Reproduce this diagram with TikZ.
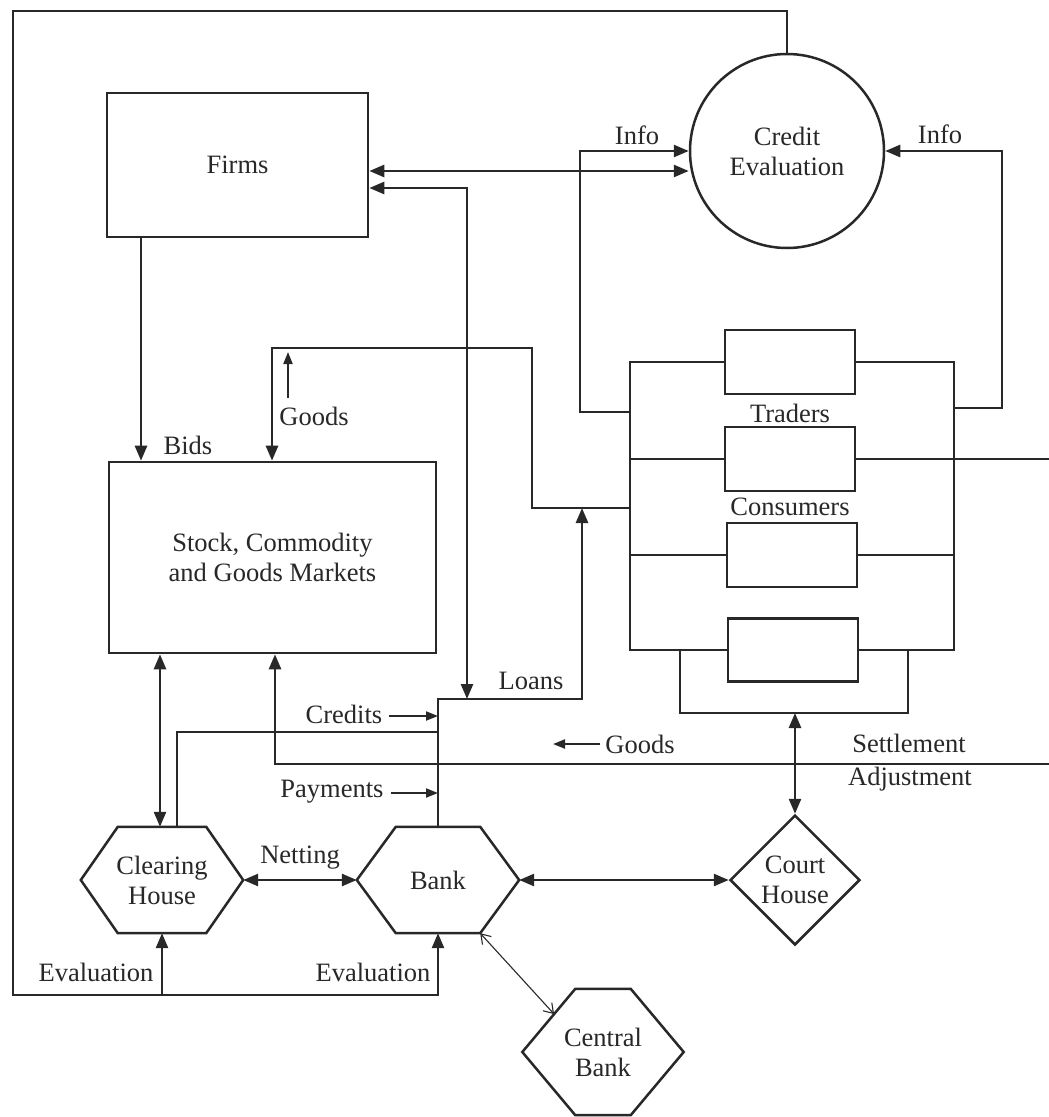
\documentclass[tikz,border=0pt]{standalone}
\usepackage{fontspec}
\setmainfont{Liberation Serif}
\usetikzlibrary{arrows.meta,shapes.geometric,calc}
\definecolor{ink}{RGB}{40,40,40}
\begin{document}
\begin{tikzpicture}[x=1pt,y=-1pt,
  every node/.style={font=\fontsize{26.5}{30}\selectfont, text=ink, align=center, inner sep=0pt},
  box/.style={draw=ink, line width=2.6pt, rectangle},
  hexn/.style={draw=none, rectangle},
  hexline/.style={draw=ink, line width=2.5pt, line join=miter},
  ln/.style={draw=ink, line width=2.6pt, >={Triangle[length=15pt,width=12pt]}},
  sln/.style={draw=ink, line width=2pt, >={Triangle[length=12pt,width=9pt]}},
  thinarr/.style={draw=ink, line width=1.1pt, {Straight Barb[length=9pt,width=12pt]}-{Straight Barb[length=9pt,width=12pt]}}
]
\useasboundingbox (0,0) rectangle (1049,1117);
\fill[white] (0,0) rectangle (1049,1117);

% main nodes
\node[box, minimum width=261pt, minimum height=144pt] (firms) at (237.5,165) {Firms};
\node[box, minimum width=327pt, minimum height=191pt] (mk) at (272.5,557.5) {Stock, Commodity\\and Goods Markets};
\node[draw=ink, line width=2.5pt, circle, minimum size=194pt] (cred) at (787,151) {Credit\\Evaluation};
\node[draw=ink, line width=2.5pt, diamond, aspect=1, minimum width=130pt, minimum height=130pt] (court) at (795,880) {Court\\House};

\node[hexn, minimum width=162pt, minimum height=106pt] (ch) at (162,880) {Clearing\\House};
\node[hexn, minimum width=162pt, minimum height=106pt] (bank) at (438,880) {Bank};
\node[hexn, minimum width=161pt, minimum height=126pt] (cb) at (603,1052) {Central\\Bank};

\newcommand{\hexdraw}[2]{%
  \draw[hexline] (#1.west) -- ([xshift=#2]#1.north west) -- ([xshift=-#2]#1.north east) -- (#1.east)
    -- ([xshift=-#2]#1.south east) -- ([xshift=#2]#1.south west) -- cycle;}
\hexdraw{ch}{37pt}
\hexdraw{bank}{39pt}
\hexdraw{cb}{53pt}

% trader / consumer boxes
\node[box, minimum width=130pt, minimum height=64pt] (t1) at (790,362) {};
\node[box, minimum width=130pt, minimum height=64pt] (t2) at (790,459) {};
\node[box, minimum width=130pt, minimum height=64pt] (t3) at (792,555) {};
\node[box, minimum width=130pt, minimum height=63pt] (t4) at (793,650) {};

% frame around traders
\draw[ln] (t1.west) -| (630,650) -- (t4.west);
\draw[ln] (t1.east) -| (954,650) -- (t4.east);
\draw[ln] (630,459) -- (t2.west);
\draw[ln] (t2.east) -- (1049,459);
\draw[ln] (630,555) -- (t3.west);
\draw[ln] (t3.east) -- (954,555);
\draw[ln] (680,650) |- (908,713) -- (908,650);

% labels
\node (ltraders) at (790,413) {Traders};
\node (lconsumers) at (790,507) {Consumers};
\node (linfo1) at (637,135) {Info};
\node (linfo2) at (940,134) {Info};
\node (lbids) at (188,445) {Bids};
\node (lgoods1) at (314,416) {Goods};
\node (lloans) at (531,681) {Loans};
\node (lcredits) at (344,714) {Credits};
\node (lpayments) at (332,792) {Payments};
\node (lgoods2) at (640,744) {Goods};
\node (lsettle) at (909,743) {Settlement};
\node (ladjust) at (910,779) {Adjustment};
\node (lnetting) at (300,858) {Netting};
\node (leval1) at (96,972) {Evaluation};
\node (leval2) at (373,972) {Evaluation};

% connectors
\draw[ln,<->] (firms.east |- 0,171) -- (cred.west |- 0,171);
\draw[ln,<->] (firms.east |- 0,188) -- (467,188) -- (467,699);
\draw[ln,->] (bank.north) -- (bank.north |- 0,699) -- (582,699) -- (582,508);
\draw[ln] (ch.north -| 177,0) -- (177,732) -- (bank.north |- 0,732);
\draw[ln,<->] (mk.south -| 160,0) -- (ch.north -| 160,0);
\draw[ln,->] (1049,764) -- (275,764) -- (mk.south -| 275,0);
\draw[ln,->] (630,508) -- (532,508) -- (532,348) -- (272,348) -- (mk.north -| 272,0);
\draw[ln,->] (firms.south -| 141,0) -- (mk.north -| 141,0);
\draw[ln,->] (cred.north) |- (13,11) |- (bank.south |- 0,995) -- (bank.south);
\draw[ln,->] (ch.south |- 0,995) -- (ch.south);
\draw[ln,<->] (ch.east) -- (bank.west);
\draw[ln,<->] (bank.east) -- (court.west);
\draw[ln,<->] (795,713) -- (court.north);
\coordinate (cbpt) at ($(cb.west)!0.6!([xshift=53pt]cb.north west)$);
\draw[thinarr] ([xshift=-39pt]bank.south east) -- (cbpt);
\draw[ln,->] (630,412) -- (580,412) |- (cred.west);
\draw[ln,->] (954,408) -- (1002,408) |- (cred.east);

% short label arrows
\draw[sln,->] (389,716) -- (bank.north |- 0,716);
\draw[sln,->] (391,793) -- (bank.north |- 0,793);
\draw[sln,->] (600,744) -- (553,744);
\draw[sln,->] (288,398) -- (288,352);
\end{tikzpicture}
\end{document}
